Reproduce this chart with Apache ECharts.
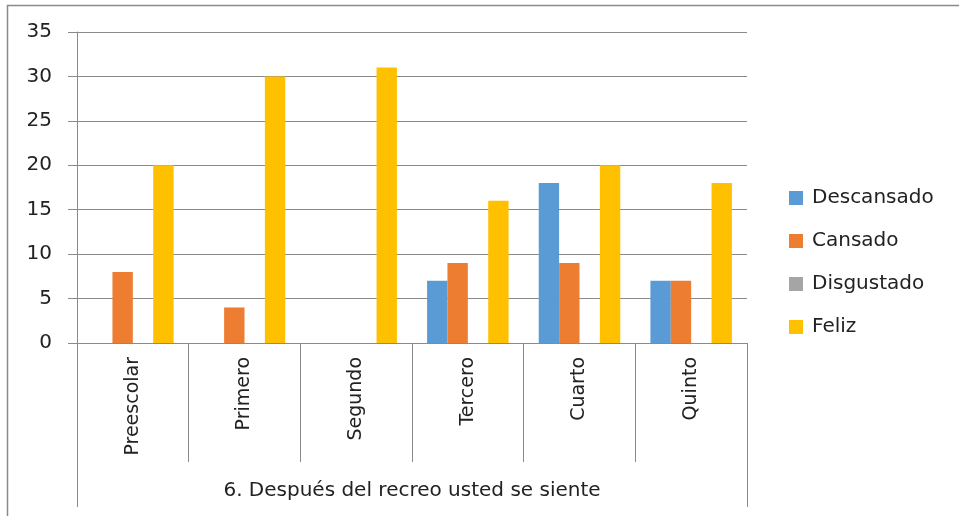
<!DOCTYPE html>
<html>
<head>
<meta charset="utf-8">
<script src="https://cdn.jsdelivr.net/npm/echarts@6/dist/echarts.min.js"></script>
<style>html,body{margin:0;padding:0;background:#fff}#c{width:959px;height:516px}</style>
</head>
<body>
<div id="c"></div>
<script>
const categories = ['Preescolar', 'Primero', 'Segundo', 'Tercero', 'Cuarto', 'Quinto'];
const groupTitle = ['6. Después del recreo usted se siente'];
const seriesNames = ['Descansado', 'Cansado', 'Disgustado', 'Feliz'];
const descansado = [0, 0, 0, 7, 18, 7];
const cansado = [8, 4, 0, 9, 9, 7];
const disgustado = [0, 0, 0, 0, 0, 0];
const feliz = [20, 30, 31, 16, 20, 18];
const colors = ['#5B9BD5', '#ED7D31', '#A5A5A5', '#FFC000'];

const FONT = 'DejaVu Sans';
const FS = 20;
const chart = echarts.init(document.getElementById('c'));
const values = [descansado, cansado, disgustado, feliz];
chart.setOption({
  animation: false,
  textStyle: { fontFamily: FONT },
  graphic: [{
    type: 'rect', shape: { x: 7.5, y: 5.5, width: 1000, height: 600 },
    style: { fill: 'none', stroke: '#8a8a8a', lineWidth: 1.5 }, z: -1
  }],
  grid: { left: 77, right: 212, top: 32, bottom: 173 },
  legend: {
    orient: 'vertical', left: 789, top: 188, padding: 0,
    itemWidth: 14, itemHeight: 14, itemGap: 23,
    icon: 'rect',
    textStyle: { fontFamily: FONT, fontSize: FS, color: '#222', padding: [0, 0, 0, 4] },
    data: seriesNames
  },
  xAxis: [{
    type: 'category', data: categories, position: 'bottom',
    axisLine: { lineStyle: { color: '#8a8a8a', width: 1 } },
    axisTick: { show: true, interval: 0, length: 119, lineStyle: { color: '#8a8a8a' } },
    axisLabel: { rotate: 90, margin: 14, fontSize: 19, color: '#222', fontFamily: FONT, interval: 0 }
  }, {
    type: 'category', data: groupTitle, position: 'bottom',
    axisLine: { show: false },
    axisTick: { show: true, length: 164, lineStyle: { color: '#8a8a8a' } },
    axisLabel: { margin: 138, fontSize: FS, color: '#222', fontFamily: FONT }
  }],
  yAxis: {
    type: 'value', min: 0, max: 35, interval: 5,
    axisLine: { show: true, lineStyle: { color: '#8a8a8a' } },
    axisTick: { show: true, length: 9, lineStyle: { color: '#8a8a8a' } },
    axisLabel: { margin: 25, fontSize: FS, color: '#222', fontFamily: FONT },
    splitLine: { lineStyle: { color: '#8a8a8a' } }
  },
  series: seriesNames.map((n, i) => ({
    name: n, type: 'bar', data: values[i], xAxisIndex: 0,
    barGap: '0%', barCategoryGap: '27%',
    itemStyle: { color: colors[i] }
  }))
});
</script>
</body>
</html>
